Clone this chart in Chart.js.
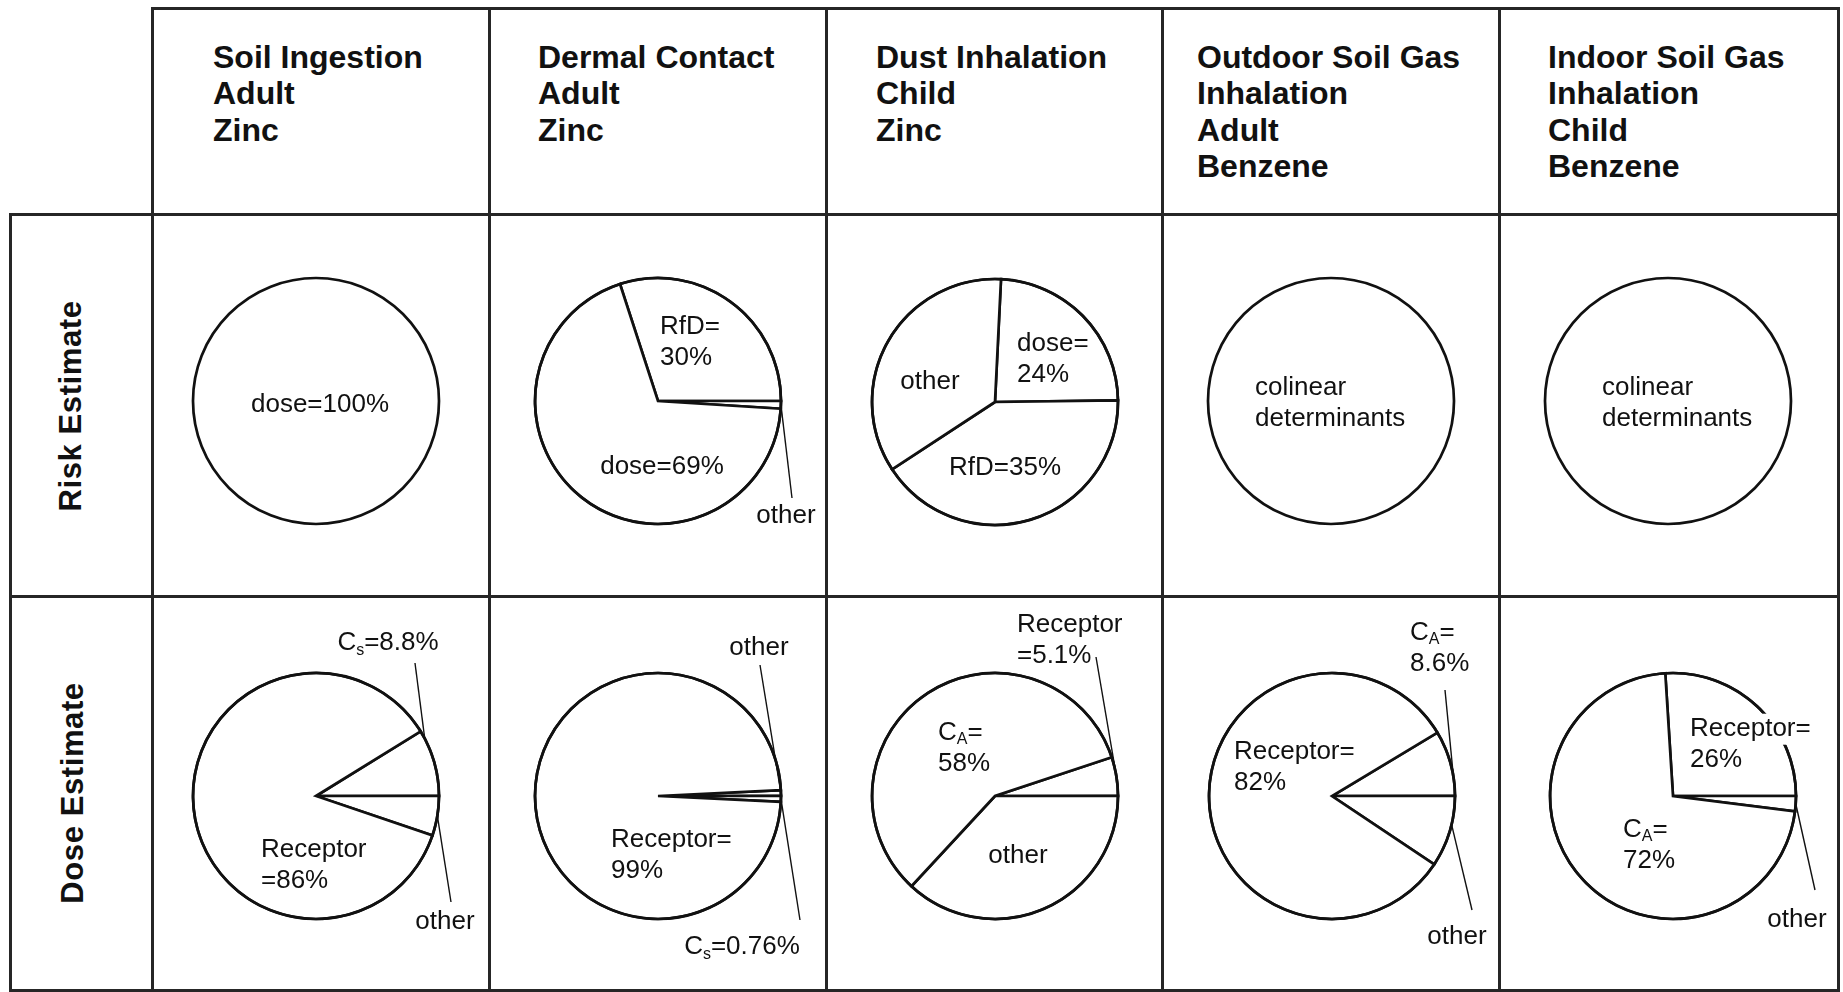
<!DOCTYPE html>
<html><head><meta charset="utf-8">
<script src="https://cdn.jsdelivr.net/npm/chart.js@4.4.1/dist/chart.umd.min.js"></script>
<style>
html,body{margin:0;padding:0;background:#fff;width:1843px;height:992px;overflow:hidden;}
#stage{position:relative;width:1843px;height:992px;}
.ln{position:absolute;background:#262626;}
.head{position:absolute;font:bold 32px "Liberation Sans",Arial,sans-serif;line-height:36.6px;color:#111;white-space:nowrap;}
.rowt{position:absolute;font:bold 31px "Liberation Sans",Arial,sans-serif;letter-spacing:0.6px;line-height:1;color:#111;white-space:nowrap;transform:translate(-50%,-50%) rotate(-90deg);}
canvas{position:absolute;}
</style></head>
<body><div id="stage"></div>
<script>
// ---------------- DATA ----------------
const columnTitles = [
  ["Soil Ingestion", "Adult", "Zinc"],
  ["Dermal Contact", "Adult", "Zinc"],
  ["Dust Inhalation", "Child", "Zinc"],
  ["Outdoor Soil Gas", "Inhalation", "Adult", "Benzene"],
  ["Indoor Soil Gas", "Inhalation", "Child", "Benzene"]
];
const rowTitles = ["Risk Estimate", "Dose Estimate"];

// Risk Estimate row (slice shares, %)
const riskSoilIngestionNames = ["dose"];
const riskSoilIngestionValues = [100];
const riskDermalContactNames = ["RfD", "other", "dose"];
const riskDermalContactValues = [30, 1, 69];
const riskDustInhalationNames = ["dose", "RfD", "other"];
const riskDustInhalationValues = [24, 41, 35];   // wedge sizes as drawn
const riskOutdoorSoilGasNames = ["colinear determinants"];
const riskOutdoorSoilGasValues = [100];
const riskIndoorSoilGasNames = ["colinear determinants"];
const riskIndoorSoilGasValues = [100];

// Dose Estimate row (slice shares, %)
const doseSoilIngestionNames = ["Cs", "other", "Receptor"];
const doseSoilIngestionValues = [8.8, 5.2, 86];
const doseDermalContactNames = ["other", "Cs", "Receptor"];
const doseDermalContactValues = [0.74, 0.76, 98.5];
const doseDustInhalationNames = ["Receptor", "other", "CA"];
const doseDustInhalationValues = [5.1, 36.9, 58];
const doseOutdoorSoilGasNames = ["CA", "other", "Receptor"];
const doseOutdoorSoilGasValues = [8.6, 9.4, 82];
const doseIndoorSoilGasNames = ["Receptor", "other", "CA"];
const doseIndoorSoilGasValues = [26, 2, 72];

// ---------------- LAYOUT ----------------
const gridX = [10, 152, 489, 826, 1162, 1499, 1838];
const gridY = [8, 214, 596, 990];
const headLeft = [213, 538, 876, 1197, 1548];
const rowTitleCenters = [[70, 406], [72, 793]];
const pieCenters = [
  [[316, 401], [658, 401], [995, 402], [1331, 401], [1668, 401]],
  [[316, 796], [658, 796], [995, 796], [1332, 796], [1673, 796]]
];
const PIE_R = 123;

const stage = document.getElementById('stage');
function line(x, y, w, h) {
  const d = document.createElement('div'); d.className = 'ln';
  d.style.left = x + 'px'; d.style.top = y + 'px'; d.style.width = w + 'px'; d.style.height = h + 'px';
  stage.appendChild(d);
}
const LW = 3;
line(gridX[1] - LW / 2, gridY[0] - LW / 2, gridX[6] - gridX[1] + LW, LW);
for (let i = 1; i < gridY.length; i++) line(gridX[0] - LW / 2, gridY[i] - LW / 2, gridX[6] - gridX[0] + LW, LW);
line(gridX[0] - LW / 2, gridY[1] - LW / 2, LW, gridY[3] - gridY[1] + LW);
for (let i = 1; i < gridX.length; i++) line(gridX[i] - LW / 2, gridY[0] - LW / 2, LW, gridY[3] - gridY[0] + LW);

columnTitles.forEach((t, i) => {
  const d = document.createElement('div'); d.className = 'head';
  d.style.left = headLeft[i] + 'px'; d.style.top = '38.5px';
  d.innerHTML = t.join('<br>');
  stage.appendChild(d);
});
rowTitles.forEach((t, i) => {
  const d = document.createElement('div'); d.className = 'rowt';
  d.style.left = rowTitleCenters[i][0] + 'px'; d.style.top = rowTitleCenters[i][1] + 'px';
  d.textContent = t;
  stage.appendChild(d);
});

// ---------------- PIE SPECS ----------------
const pies = [
  {row: 0, col: 0, names: riskSoilIngestionNames, values: riskSoilIngestionValues, rotation: 0,
   labels: [{lines: ["dose=100%"], dx: 4, dy: 2, align: 'center'}], leaders: []},
  {row: 0, col: 1, names: riskDermalContactNames, values: riskDermalContactValues, rotation: -18,
   labels: [{lines: ["RfD=", "30%"], dx: 2, dy: -61, align: 'left'},
            {lines: ["dose=69%"], dx: 4, dy: 64, align: 'center'},
            {lines: ["other"], dx: 128, dy: 113, align: 'center'}],
   leaders: [{slice: 1, frac: 0.5, dx: 134, dy: 97}]},
  {row: 0, col: 2, names: riskDustInhalationNames, values: riskDustInhalationValues, rotation: 2.8,
   labels: [{lines: ["dose=", "24%"], dx: 22, dy: -45, align: 'left'},
            {lines: ["other"], dx: -65, dy: -22, align: 'center'},
            {lines: ["RfD=35%"], dx: 10, dy: 64, align: 'center'}], leaders: []},
  {row: 0, col: 3, names: riskOutdoorSoilGasNames, values: riskOutdoorSoilGasValues, rotation: 0,
   labels: [{lines: ["colinear", "determinants"], dx: -76, dy: 0, align: 'left'}], leaders: []},
  {row: 0, col: 4, names: riskIndoorSoilGasNames, values: riskIndoorSoilGasValues, rotation: 0,
   labels: [{lines: ["colinear", "determinants"], dx: -66, dy: 0, align: 'left'}], leaders: []},

  {row: 1, col: 0, names: doseSoilIngestionNames, values: doseSoilIngestionValues, rotation: 58.3,
   labels: [{lines: ["C{s}=8.8%"], dx: 72, dy: -155, align: 'center'},
            {lines: ["Receptor", "=86%"], dx: -55, dy: 67, align: 'left'},
            {lines: ["other"], dx: 129, dy: 124, align: 'center'}],
   leaders: [{slice: 0, frac: 0.12, dx: 99, dy: -133}, {slice: 1, frac: 0.5, dx: 135, dy: 106}]},
  {row: 1, col: 1, names: doseDermalContactNames, values: doseDermalContactValues, rotation: 87.3,
   labels: [{lines: ["other"], dx: 101, dy: -150, align: 'center'},
            {lines: ["C{s}=0.76%"], dx: 84, dy: 149, align: 'center'},
            {lines: ["Receptor=", "99%"], dx: -47, dy: 57, align: 'left'}],
   leaders: [{slice: 0, frac: 0.5, dx: 102, dy: -131}, {slice: 1, frac: 0.5, dx: 142, dy: 124}]},
  {row: 1, col: 2, names: doseDustInhalationNames, values: doseDustInhalationValues, rotation: 71.6,
   labels: [{lines: ["Receptor", "=5.1%"], dx: 22, dy: -158, align: 'left'},
            {lines: ["C{A}=", "58%"], dx: -57, dy: -50, align: 'left'},
            {lines: ["other"], dx: 23, dy: 58, align: 'center'}],
   leaders: [{slice: 0, frac: 0.5, dx: 101, dy: -139}]},
  {row: 1, col: 3, names: doseOutdoorSoilGasNames, values: doseOutdoorSoilGasValues, rotation: 59,
   labels: [{lines: ["C{A}=", "8.6%"], dx: 78, dy: -150, align: 'left'},
            {lines: ["Receptor=", "82%"], dx: -98, dy: -31, align: 'left'},
            {lines: ["other"], dx: 125, dy: 139, align: 'center'}],
   leaders: [{slice: 0, frac: 0.7, dx: 113, dy: -106}, {slice: 1, frac: 0.4, dx: 140, dy: 114}]},
  {row: 1, col: 4, names: doseIndoorSoilGasNames, values: doseIndoorSoilGasValues, rotation: -3.6,
   labels: [{lines: ["Receptor=", "26%"], dx: 17, dy: -54, align: 'left', bg: true},
            {lines: ["C{A}=", "72%"], dx: -50, dy: 47, align: 'left'},
            {lines: ["other"], dx: 124, dy: 122, align: 'center'}],
   leaders: [{slice: 1, frac: 0.5, dx: 142, dy: 94}]}
];

// ---------------- DRAWING ----------------
const FS = 26, LH = 31, FONT = '"Liberation Sans", Arial, sans-serif';
function parseSegs(s) {
  const segs = []; const re = /\{([^}]*)\}/g; let last = 0, m;
  while ((m = re.exec(s))) {
    if (m.index > last) segs.push({t: s.slice(last, m.index), sub: false});
    segs.push({t: m[1], sub: true}); last = re.lastIndex;
  }
  if (last < s.length) segs.push({t: s.slice(last), sub: false});
  return segs;
}
function segFont(sub) { return (sub ? Math.round(FS * 0.62) : FS) + 'px ' + FONT; }
function segWidth(ctx, segs) {
  let w = 0; segs.forEach(g => { ctx.font = segFont(g.sub); w += ctx.measureText(g.t).width; }); return w;
}
function drawLabel(ctx, cx, cy, T) {
  const n = T.lines.length;
  const b1 = cy + T.dy + 0.358 * FS - (n - 1) * LH / 2;
  ctx.textBaseline = 'alphabetic'; ctx.textAlign = 'left';
  T.lines.forEach((ln, i) => {
    const segs = parseSegs(ln); const w = segWidth(ctx, segs);
    let x = T.align === 'center' ? cx + T.dx - w / 2 : cx + T.dx;
    const base = b1 + i * LH;
    if (T.bg) { ctx.fillStyle = '#fff'; ctx.fillRect(x - 3, base - FS * 0.85, w + 6, LH); }
    ctx.fillStyle = '#111';
    segs.forEach(g => {
      ctx.font = segFont(g.sub);
      ctx.fillText(g.t, x, base + (g.sub ? FS * 0.18 : 0));
      x += ctx.measureText(g.t).width;
    });
  });
}
const decorSpecs = {};
const decorPlugin = {
  id: 'pieDecor',
  afterDatasetsDraw(chart) {
    const spec = decorSpecs[chart.canvas.id]; if (!spec) return;
    const ctx = chart.ctx;
    const arcs = chart.getDatasetMeta(0).data;
    const {x, y, outerRadius} = arcs[0].getProps(['x', 'y', 'outerRadius'], true);
    ctx.save();
    ctx.strokeStyle = '#111'; ctx.lineWidth = 2.7;
    ctx.beginPath(); ctx.arc(x, y, outerRadius, 0, Math.PI * 2); ctx.stroke();
    ctx.lineWidth = 1.4;
    spec.leaders.forEach(L => {
      const p = arcs[L.slice].getProps(['startAngle', 'endAngle'], true);
      const a = p.startAngle + L.frac * (p.endAngle - p.startAngle);
      ctx.beginPath();
      ctx.moveTo(x + outerRadius * Math.cos(a), y + outerRadius * Math.sin(a));
      ctx.lineTo(x + L.dx, y + L.dy); ctx.stroke();
    });
    spec.labels.forEach(T => drawLabel(ctx, x, y, T));
    ctx.restore();
  }
};

pies.forEach((P, k) => {
  const cellX = gridX[P.col + 1], cellW = gridX[P.col + 2] - gridX[P.col + 1];
  const cellY = gridY[P.row + 1], cellH = gridY[P.row + 2] - gridY[P.row + 1];
  const [cx, cy] = pieCenters[P.row][P.col];
  const cv = document.createElement('canvas');
  cv.id = 'pie' + k; cv.width = cellW; cv.height = cellH;
  cv.style.left = cellX + 'px'; cv.style.top = cellY + 'px';
  cv.style.width = cellW + 'px'; cv.style.height = cellH + 'px';
  stage.appendChild(cv);
  decorSpecs[cv.id] = P;
  const half = PIE_R + 8;
  const lx = cx - cellX, ly = cy - cellY;
  new Chart(cv, {
    type: 'pie',
    data: {labels: P.names, datasets: [{
      data: P.values, backgroundColor: '#ffffff', borderColor: '#111111',
      borderWidth: P.values.length > 1 ? 2.7 : 0, borderJoinStyle: 'miter',
      hoverOffset: 0, offset: 0
    }]},
    options: {
      responsive: false, animation: false, events: [],
      rotation: P.rotation, radius: PIE_R,
      layout: {padding: {left: lx - half, right: cellW - lx - half, top: ly - half, bottom: cellH - ly - half}},
      plugins: {legend: {display: false}, tooltip: {enabled: false}}
    },
    plugins: [decorPlugin]
  });
});
</script>
</body></html>
